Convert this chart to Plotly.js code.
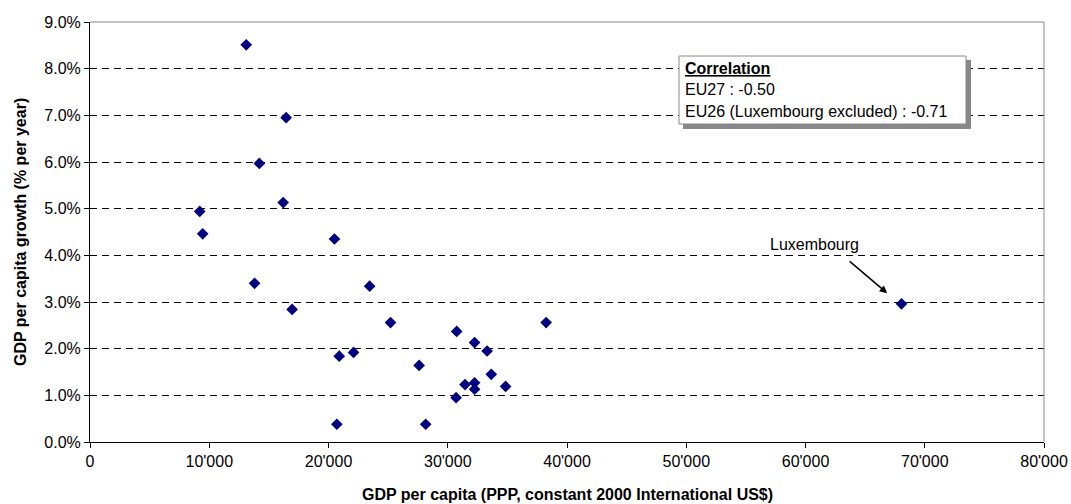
<!DOCTYPE html>
<html>
<head>
<meta charset="utf-8">
<script src="https://cdn.plot.ly/plotly-3.0.1.min.js"></script>
<style>html,body{margin:0;padding:0;background:#fff;}#chart{width:1071px;height:504px;}</style>
</head>
<body>
<div id="chart"></div>
<script>
// GDP per capita (PPP, constant 2000 intl US$) and GDP per capita growth (% per year), EU27
const gdpPerCapita = [13100, 16450, 14200, 16200, 9200, 9450, 13800, 20500, 16950, 23450,
  25200, 20900, 22100, 20700, 38250, 30750, 32250, 33300, 27600, 33650,
  31450, 32250, 32250, 34850, 30700, 28150, 68050];
const growthRate = [8.51, 6.95, 5.97, 5.13, 4.94, 4.46, 3.40, 4.35, 2.84, 3.34,
  2.56, 1.84, 1.92, 0.38, 2.56, 2.37, 2.13, 1.95, 1.64, 1.45,
  1.23, 1.27, 1.13, 1.19, 0.95, 0.38, 2.96];
const xTitle = 'GDP per capita (PPP, constant 2000 International US$)';
const yTitle = 'GDP per capita growth (% per year)';
const corrTitle = 'Correlation';
const corrLines = ['EU27 : -0.50', 'EU26 (Luxembourg excluded) : -0.71'];
const outlierLabel = 'Luxembourg';
const outlierIndex = 26;

const M = {l: 90, r: 27, t: 22, b: 62};
const W = 1071, H = 504;
const pw = W - M.l - M.r, ph = H - M.t - M.b;
const px = v => (v - M.l) / pw;
const py = v => (H - M.b - v) / ph;
const FONT = 'Liberation Sans, Arial, sans-serif';

const trace = {
  x: gdpPerCapita, y: growthRate, type: 'scatter', mode: 'markers',
  marker: {symbol: 'diamond', size: 9, color: '#000080', line: {width: 0}},
  hoverinfo: 'x+y', showlegend: false
};

const layout = {
  width: W, height: H, margin: M,
  paper_bgcolor: '#fff', plot_bgcolor: '#fff',
  separators: ".'",
  font: {family: FONT, color: '#000', size: 16},
  xaxis: {
    range: [0, 80000], dtick: 10000, tick0: 0, tickformat: ',d',
    showgrid: false, zeroline: false,
    showline: true, linecolor: '#000', linewidth: 1,
    ticks: 'outside', ticklen: 5, tickcolor: '#000',
    tickfont: {size: 16, family: FONT}, fixedrange: true
  },
  yaxis: {
    range: [0, 9], dtick: 1, tick0: 0, tickformat: '.1f', ticksuffix: '%',
    showgrid: true, gridcolor: '#000', gridwidth: 1, griddash: '7px,5px',
    zeroline: false, showline: true, linecolor: '#000', linewidth: 1,
    ticks: 'outside', ticklen: 5, tickcolor: '#000',
    tickfont: {size: 16, family: FONT}, fixedrange: true
  },
  shapes: [
    {type: 'line', xref: 'paper', yref: 'paper', x0: 0, x1: 1, y0: 1, y1: 1, line: {color: '#888', width: 1}},
    {type: 'line', xref: 'paper', yref: 'paper', x0: 1, x1: 1, y0: 0, y1: 1, line: {color: '#888', width: 1}},
    {type: 'rect', xref: 'paper', yref: 'paper', layer: 'above',
     x0: px(683), x1: px(971), y0: py(129), y1: py(60), fillcolor: '#888', line: {width: 0}},
    {type: 'rect', xref: 'paper', yref: 'paper', layer: 'above',
     x0: px(679), x1: px(966), y0: py(124), y1: py(56), fillcolor: '#fff', line: {color: '#888', width: 1}}
  ],
  annotations: [
    {xref: 'paper', yref: 'paper', x: px(683), y: py(68), xanchor: 'left', yanchor: 'middle',
     text: '<b><u>' + corrTitle + '</u></b>', showarrow: false, font: {size: 16, family: FONT}},
    {xref: 'paper', yref: 'paper', x: px(683), y: py(90), xanchor: 'left', yanchor: 'middle',
     text: corrLines[0], showarrow: false, font: {size: 16, family: FONT}},
    {xref: 'paper', yref: 'paper', x: px(683), y: py(111), xanchor: 'left', yanchor: 'middle',
     text: corrLines[1], showarrow: false, font: {size: 16, family: FONT}},
    {xref: 'x', yref: 'y', x: gdpPerCapita[outlierIndex] - 1200, y: growthRate[outlierIndex] + 0.23,
     ax: -39, ay: -33, text: '', showarrow: true, arrowhead: 2, arrowsize: 1, arrowwidth: 1.5, arrowcolor: '#000'},
    {xref: 'paper', yref: 'paper', x: px(814), y: py(244), xanchor: 'center', yanchor: 'middle',
     text: outlierLabel, showarrow: false, font: {size: 16, family: FONT}},
    {xref: 'paper', yref: 'paper', x: px(567), y: py(494), xanchor: 'center', yanchor: 'middle',
     text: '<b>' + xTitle + '</b>', showarrow: false, font: {size: 16, family: FONT}},
    {xref: 'paper', yref: 'paper', x: px(20), y: py(232), xanchor: 'center', yanchor: 'middle',
     textangle: -90, text: '<b>' + yTitle + '</b>', showarrow: false, font: {size: 16, family: FONT}}
  ]
};

Plotly.newPlot('chart', [trace], layout, {displayModeBar: false, staticPlot: true});
</script>
</body>
</html>
